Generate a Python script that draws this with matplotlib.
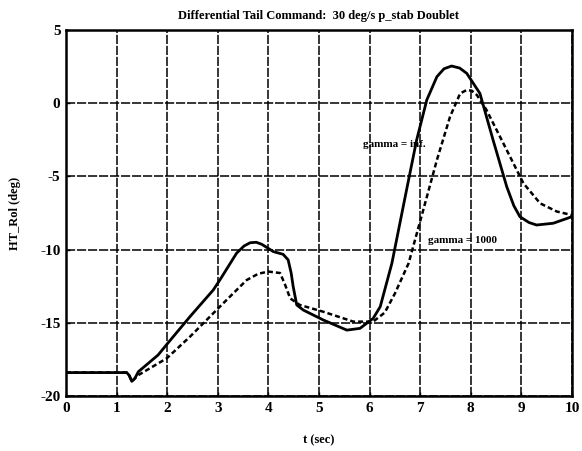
import matplotlib
matplotlib.use("Agg")
import matplotlib.pyplot as plt

# gamma = inf (solid)
t_inf = [0.0, 0.5, 1.0, 1.2, 1.25, 1.30, 1.36, 1.43, 1.82, 2.01, 2.45, 2.91, 3.04, 3.37,
         3.52, 3.64, 3.76, 3.87, 4.10, 4.29, 4.39, 4.45, 4.49, 4.56, 4.69, 5.08, 5.55,
         5.81, 6.07, 6.21, 6.44, 6.73, 6.93, 7.13, 7.33, 7.47, 7.62, 7.78, 7.92, 8.18,
         8.44, 8.71, 8.85, 8.97, 9.15, 9.30, 9.63, 10.0]
v_inf = [-18.4, -18.4, -18.4, -18.4, -18.6, -19.0, -18.8, -18.34, -17.2, -16.4, -14.58,
         -12.76, -12.08, -10.25, -9.75, -9.53, -9.5, -9.64, -10.14, -10.32, -10.7, -11.6,
         -12.53, -13.78, -14.13, -14.8, -15.5, -15.38, -14.7, -13.9, -10.94, -5.93, -2.51,
         0.22, 1.81, 2.35, 2.54, 2.4, 2.04, 0.67, -2.51, -5.7, -7.0, -7.75, -8.15, -8.32,
         -8.2, -7.75]

# gamma = 1000 (dashed)
t_1000 = [0.0, 0.5, 1.0, 1.2, 1.25, 1.30, 1.43, 1.99, 2.45, 3.04, 3.57, 3.8, 4.0, 4.23,
          4.33, 4.43, 4.62, 5.08, 5.68, 6.07, 6.3, 6.5, 6.77, 7.06, 7.33, 7.59, 7.79, 7.92,
          8.02, 8.12, 8.31, 8.71, 9.04, 9.37, 9.70, 10.0]
v_1000 = [-18.4, -18.4, -18.4, -18.4, -18.6, -19.0, -18.57, -17.43, -15.95, -13.9, -12.08,
          -11.65, -11.5, -11.6, -12.4, -13.33, -13.78, -14.24, -14.92, -14.92, -14.3, -13.0,
          -10.94, -7.3, -3.88, -0.92, 0.67, 0.9, 0.85, 0.56, -0.46, -3.2, -5.47, -6.84,
          -7.4, -7.64]

x_ticks = list(range(0, 11))
y_ticks = [-20, -15, -10, -5, 0, 5]

title = "Differential Tail Command:  30 deg/s p_stab Doublet"
xlabel = "t (sec)"
ylabel = "HT_Rol (deg)"
label_inf = "gamma = inf."
label_1000 = "gamma = 1000"

plt.rcParams['font.family'] = ['Liberation Serif', 'DejaVu Serif']
plt.rcParams['font.weight'] = 'bold'

fig = plt.figure(figsize=(5.82, 4.51), dpi=100)
ax = fig.add_axes([66/582, 1-396/451, (572-66)/582, (396-30)/451])

ax.plot(t_inf, v_inf, color='black', lw=2.0, solid_joinstyle='round')
ax.plot(t_1000, v_1000, color='black', lw=1.8, linestyle=(0, (2.0, 1.2)))

ax.set_xlim(0, 10)
ax.set_ylim(-20, 5)
ax.set_xticks(x_ticks)
ax.set_yticks(y_ticks)
ax.set_xticklabels([str(v) for v in x_ticks], fontsize=11, fontweight='bold')
ax.set_yticklabels([str(v) for v in y_ticks], fontsize=11, fontweight='bold')
ax.tick_params(direction='in', length=3, width=1, pad=4)

ax.grid(True, color='black', linestyle=(0, (6, 1.2)), linewidth=1.1)
for s in ax.spines.values():
    s.set_linewidth(1.8)

ax.set_title(title, fontsize=9, fontweight='bold', pad=8)
ax.set_xlabel(xlabel, fontsize=9, fontweight='bold', labelpad=14)
ax.set_ylabel(ylabel, fontsize=9, fontweight='bold', labelpad=14)

ax.text(5.87, -2.85, label_inf, fontsize=8, fontweight='bold', va='center', ha='left')
ax.text(7.15, -9.35, label_1000, fontsize=8, fontweight='bold', va='center', ha='left')

fig.savefig("out.png", dpi=100)
